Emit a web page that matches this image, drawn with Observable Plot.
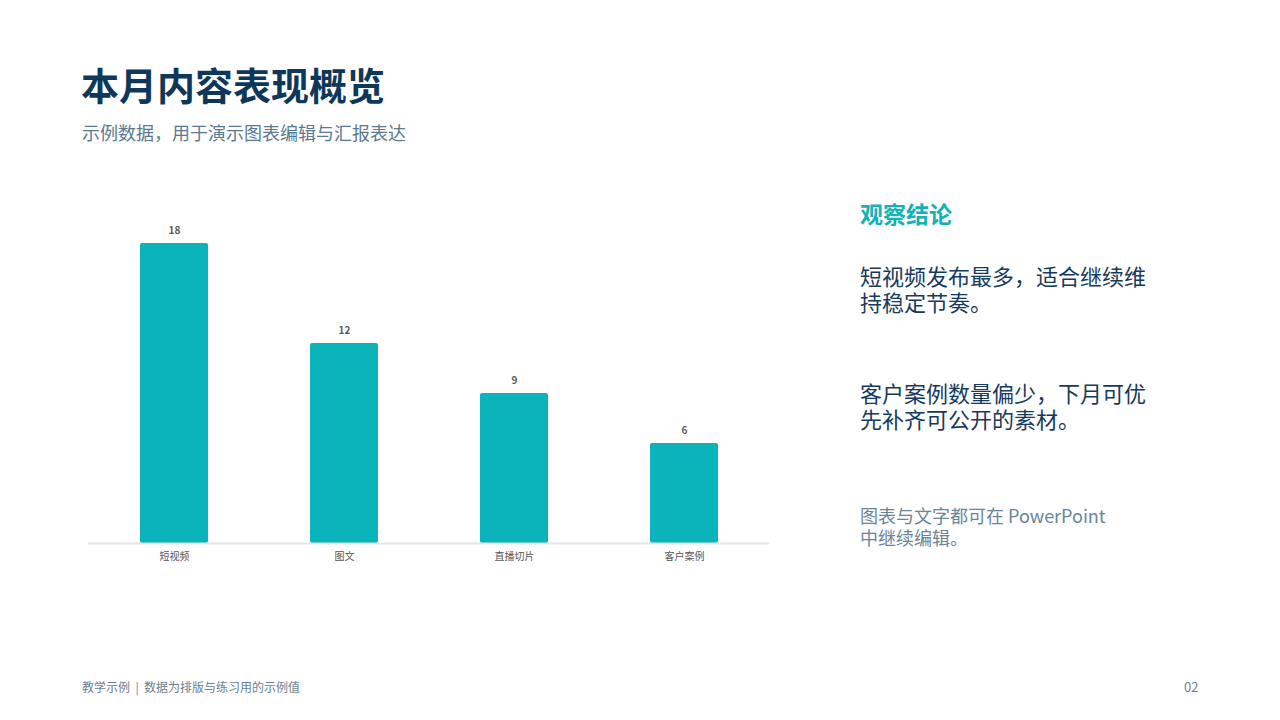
<!DOCTYPE html>
<html>
<head>
<meta charset="utf-8">
<script src="https://cdn.jsdelivr.net/npm/d3@7"></script>
<script src="https://cdn.jsdelivr.net/npm/@observablehq/plot@0.6"></script>
<style>
  html, body { margin: 0; padding: 0; background: #ffffff; }
  body { width: 1280px; height: 720px; position: relative; overflow: hidden;
         font-family: "Noto Sans CJK SC", "Noto Sans", sans-serif; }
  .abs { position: absolute; white-space: nowrap; }
  #title { left: 81px; top: 58px; font-size: 38px; font-weight: 700; color: #0e3859; line-height: 52px; }
  #subtitle { left: 82px; top: 119px; font-size: 18px; color: #5b7890; line-height: 26px; }
  #chart { position: absolute; left: 0; top: 200px; }
  #panelTitle { left: 860px; top: 196px; font-size: 23px; font-weight: 700; color: #12b3b6; line-height: 34px; }
  .body { left: 860px; font-size: 22px; color: #163a5e; line-height: 26px; }
  #p1 { top: 262px; }
  #p2 { top: 379px; }
  #note { left: 860px; top: 504px; font-size: 18px; color: #6a8599; line-height: 22px; }
  #footer { left: 82px; top: 678px; font-size: 12px; color: #6a7f90; line-height: 18px; white-space: pre; }
  #page { left: 1184px; top: 678px; font-size: 13px; color: #6a8599; line-height: 18px; }
</style>
</head>
<body>
<div id="title" class="abs">本月内容表现概览</div>
<div id="subtitle" class="abs">示例数据，用于演示图表编辑与汇报表达</div>
<div id="chart"></div>
<div id="panelTitle" class="abs">观察结论</div>
<div id="p1" class="abs body">短视频发布最多，适合继续维<br>持稳定节奏。</div>
<div id="p2" class="abs body">客户案例数量偏少，下月可优<br>先补齐可公开的素材。</div>
<div id="note" class="abs">图表与文字都可在 PowerPoint<br>中继续编辑。</div>
<div id="footer" class="abs">教学示例  |  数据为排版与练习用的示例值</div>
<div id="page" class="abs">02</div>
<script>
const categories = ["短视频", "图文", "直播切片", "客户案例"];
const values = [18, 12, 9, 6];

const data = categories.map((c, i) => ({ category: c, value: values[i] }));

const chart = Plot.plot({
  width: 800,
  height: 380,
  marginLeft: 88,
  marginRight: 31,
  marginTop: 43,
  marginBottom: 37,
  style: { fontFamily: '"Noto Sans CJK SC", "Noto Sans", sans-serif', background: "transparent" },
  x: { domain: categories, paddingInner: 0.6, paddingOuter: 0.3, label: null },
  y: { domain: [0, 18], axis: null },
  marks: [
    Plot.barY(data, { x: "category", y: "value", fill: "#0bb4bb", rx: 2 }),
    Plot.ruleY([0], { stroke: "#e2e4e6", strokeWidth: 2 }),
    Plot.text(data, { x: "category", y: "value", text: d => String(d.value), dy: -13,
      fontSize: 10, fontWeight: 700, fill: "#5a5a5a" }),
    Plot.axisX({ tickSize: 0, tickPadding: 9, fontSize: 10, color: "#555555", label: null })
  ]
});
document.getElementById("chart").appendChild(chart);
</script>
</body>
</html>
